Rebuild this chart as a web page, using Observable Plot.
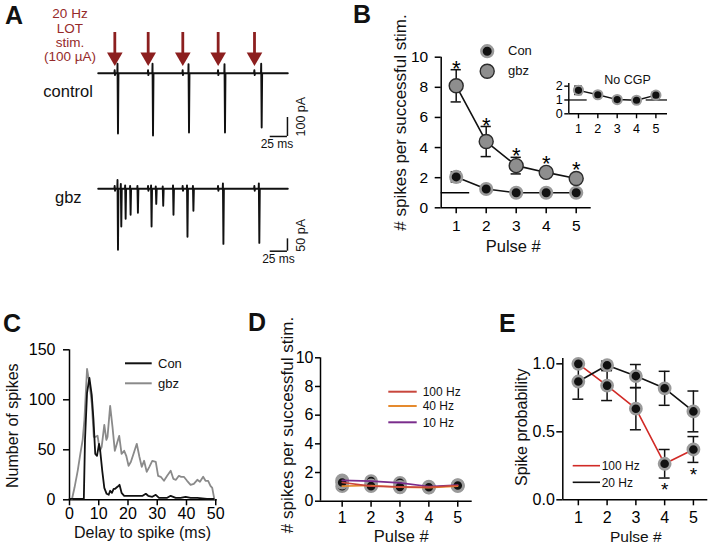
<!DOCTYPE html>
<html><head><meta charset="utf-8">
<script src="https://cdn.jsdelivr.net/npm/d3@7"></script>
<script src="https://cdn.jsdelivr.net/npm/@observablehq/plot@0.6"></script>
<style>
body{margin:0;background:#fff}
#fig{position:relative;width:710px;height:546px;overflow:hidden;background:#fff}
#fig svg{position:absolute;left:0;top:0}
</style></head>
<body><div id="fig"></div>
<script>
const F = '"Liberation Sans", Arial, Helvetica, sans-serif';
const pulses = [1, 2, 3, 4, 5];
const intFmt = d3.format("d");

// ---- Panel A (traces) ----
const stimTimes = [24.1, 72.5, 122.7, 174.0, 226.7];          // ms
const ctrlSpikeT = [28.4, 79.2, 131.4, 183.6, 236.8];         // ms
const ctrlSpikeDown = [317, 328, 312, 312, 286];              // pA
const ctrlSpikeUp = [50, 50, 48, 48, 50];                     // pA
const gbzSpikeT = [28.4, 33.2, 39.5, 46.7, 57.3, 77.1, 83.9, 94.0, 108.9, 129.2, 137.8, 181.3, 233.4];
const gbzSpikeDown = [247, 153, 121, 105, 97, 153, 61, 69, 105, 194, 89, 223, 219];
const gbzSpikeUp = [36, 20, 14, 12, 12, 14, 10, 10, 14, 14, 12, 22, 22];
const scaleMs = 25, ctrlScalePa = 100, gbzScalePa = 50;

// ---- Panel B ----
const bConMean = [2.05, 1.25, 1.0, 1.0, 1.0];
const bConErr = [0.33, 0.12, 0.07, 0.07, 0.07];
const bGbzMean = [8.1, 4.4, 2.8, 2.35, 1.95];
const bGbzErr = [1.07, 1.0, 0.55, 0.25, 0.2];
const bInsetMean = [1.7, 1.38, 1.03, 0.98, 1.35];
const bInsetErr = [0.3, 0.1, 0.06, 0.06, 0.2];

// ---- Panel C ----
const cGbzT = [0.8,1.7,2.8,3.7,4.5,5.1,6.0,6.8,7.6,8.3,8.8,9.6,10.4,11.0,11.9,12.6,13.0,13.9,14.7,15.5,16.2,17.0,17.8,18.7,19.4,20.2,21.0,21.9,23.0,23.9,24.7,25.5,26.4,27.3,28.3,29.5,30.3,31.2,32.3,33.4,34.6,35.5,36.4,37.4,38.2,39.1,40.2,41.4,42.5,43.7,44.6,45.7,46.5,47.4,48.2,48.8,49.5];
const cGbzN = [0,12,29,46,60,80,131,117,97,63,63,64,49,53,75,60,63,94,73,49,56,64,46,49,44,34,38,46,56,43,33,39,28,33,39,38,24,23,19,24,29,21,20,24,23,23,19,15,16,20,18,23,19,19,14,12,1];
const cConT = [0,1,2,3,4,4.9,5.3,6.0,6.8,7.6,8.2,8.8,9.4,10.1,10.5,11.2,11.9,12.7,13.4,13.9,14.5,15.1,15.6,16.4,17.1,17.8,18.7,19.8,22.1,25.0,26.1,26.9,28.3,29.5,30.6,33.4,34.6,36.3,38.0,39.7,41.4,43.7,47.0,49.3];
const cConN = [1,1,1,1,1,1,60,107,122,105,80,46,44,56,49,29,12,6,5,9,7,11,11,13,15,7,4,4,4,4,6,4,3,5,2,2,4,2,2,3,2,2,1,1];

// ---- Panel D ----
const d100Hz = [1.3, 1.05, 1.0, 0.97, 1.1];
const d40Hz = [1.05, 1.1, 0.97, 0.95, 1.05];
const d10Hz = [1.45, 1.4, 1.28, 1.02, 1.12];

// ---- Panel E ----
const e20Mean = [0.87, 0.99, 0.91, 0.82, 0.65];
const e20Err = [0.13, 0.03, 0.085, 0.125, 0.15];
const e100Mean = [1.0, 0.84, 0.67, 0.265, 0.37];
const e100Err = [0.0, 0.11, 0.155, 0.105, 0.095];
const e100Sig = [false, false, false, true, true];

const fig = document.getElementById("fig");
const rows = (m, e, s) => pulses.map((p, i) => ({p, m: m[i], e: e[i], s}));
function P(o, fs) {
  const svg = Plot.plot(Object.assign({width: 710, height: 546,
    style: {background: "transparent", fontFamily: F, fontSize: fs + "px", overflow: "visible"}}, o));
  fig.appendChild(svg);
}
const errMarks = (data, hw, stroke = "#111") => [
  Plot.ruleX(data, {x: "p", y1: d => d.m - d.e, y2: d => d.m + d.e, stroke, strokeWidth: 1.5}),
  Plot.ruleY(data, {y: d => d.m - d.e, x1: d => d.p - hw, x2: d => d.p + hw, stroke, strokeWidth: 1.5}),
  Plot.ruleY(data, {y: d => d.m + d.e, x1: d => d.p - hw, x2: d => d.p + hw, stroke, strokeWidth: 1.5})
];

// ---- A: arrows ----
const arrowRed = "#8c1f1f";
P({x: {domain: [0, 275], range: [97.7, 287.3], axis: null}, marginTop: 32, marginBottom: 492,
  marks: [
    Plot.ruleX(stimTimes, {x: d => d, stroke: arrowRed, strokeWidth: 2.8}),
    Plot.dot(stimTimes, {x: d => d, frameAnchor: "bottom", dy: 2.5, symbol: "triangle", rotate: 180, r: 5.8, fill: arrowRed, stroke: "none"})
  ]}, 10);

function trace(stims, ts, downs, ups, artUp, artDown) {
  const ev = [];
  stims.forEach(s => ev.push({t: s, pts: [[-0.6, 0], [-0.2, artUp], [0.3, -artDown], [0.8, 0]]}));
  ts.forEach((t, i) => ev.push({t, pts: [[-0.7, 0], [-0.4, ups[i]], [0.3, -downs[i]], [1.0, 0]]}));
  ev.sort((a, b) => a.t - b.t);
  const out = [{t: 0, v: 0}];
  ev.forEach(e => e.pts.forEach(([dt, v]) => out.push({t: e.t + dt, v})));
  out.push({t: 275, v: 0});
  return out;
}
const ctrlTrace = trace(stimTimes, ctrlSpikeT, ctrlSpikeDown, ctrlSpikeUp, 16, 10);
const gbzTrace = trace(stimTimes, gbzSpikeT, gbzSpikeDown, gbzSpikeUp, 12, 8);

P({x: {domain: [0, 275], range: [97.7, 287.3], axis: null},
   y: {domain: [-400, 100], range: [72.7 + 76, 72.7 - 19], axis: null},
  marks: [
    Plot.line(ctrlTrace, {x: "t", y: "v", stroke: "#111", strokeWidth: 1.9, strokeLinejoin: "round"}),
    Plot.ruleY([-333], {x1: 274.5 - scaleMs, x2: 274.5, stroke: "#111", strokeWidth: 1.5}),
    Plot.ruleX([274.5], {y1: -333, y2: -333 + ctrlScalePa, stroke: "#111", strokeWidth: 1.5})
  ]}, 10);
P({x: {domain: [0, 275], range: [97.7, 287.3], axis: null},
   y: {domain: [-300, 100], range: [188.3 + 74.1, 188.3 - 24.7], axis: null},
  marks: [
    Plot.line(gbzTrace, {x: "t", y: "v", stroke: "#111", strokeWidth: 1.9, strokeLinejoin: "round"}),
    Plot.ruleY([-252.6], {x1: 274.5 - scaleMs, x2: 274.5, stroke: "#111", strokeWidth: 1.5}),
    Plot.ruleX([274.5], {y1: -252.6, y2: -252.6 + gbzScalePa, stroke: "#111", strokeWidth: 1.5})
  ]}, 10);

// ---- B main ----
const bCon = rows(bConMean, bConErr, "Con"), bGbz = rows(bGbzMean, bGbzErr, "gbz");
P({marginLeft: 440.7, marginRight: 119.3, marginTop: 56.7, marginBottom: 338.7,
  x: {domain: [0.5, 5.5]}, y: {domain: [0, 10]},
  marks: [
    Plot.ruleX([0.5], {y1: 0, y2: 10, strokeWidth: 1.5}),
    Plot.ruleY([0], {x1: 0.5, x2: 5.5, strokeWidth: 1.5}),
    Plot.ruleY([1], {x1: 0.5, x2: 1.45, strokeWidth: 1.5}),
    Plot.axisY({ticks: [0, 2, 4, 6, 8, 10], tickFormat: intFmt, tickSize: 6, tickPadding: 7, label: null, strokeWidth: 1.5}),
    Plot.axisX({ticks: pulses, tickFormat: intFmt, tickSize: 6, tickPadding: 6, label: null, strokeWidth: 1.5}),
    Plot.line(bCon, {x: "p", y: "m", stroke: "#111", strokeWidth: 1.6}),
    Plot.line(bGbz, {x: "p", y: "m", stroke: "#111", strokeWidth: 1.6}),
    ...errMarks([...bCon, ...bGbz], 0.17),
    Plot.dot(bCon, {x: "p", y: "m", r: 5.8, fill: "#111", stroke: "#9a9a9a", strokeWidth: 2.6}),
    Plot.dot(bGbz, {x: "p", y: "m", r: 7, fill: "#8e8e8e", stroke: "#2b2b2b", strokeWidth: 1.4}),
    Plot.text(bGbz, {x: "p", y: d => Math.max(d.m + d.e, d.m + 0.47), text: () => "*", fontSize: 22, dy: -1}),
    Plot.dot([0], {frameAnchor: "top-left", dx: 46, dy: -6, r: 5.8, fill: "#111", stroke: "#9a9a9a", strokeWidth: 2.6}),
    Plot.dot([0], {frameAnchor: "top-left", dx: 46, dy: 14, r: 7, fill: "#8e8e8e", stroke: "#2b2b2b", strokeWidth: 1.4})
  ]}, 15.5);

// ---- B inset ----
const bIn = rows(bInsetMean, bInsetErr, "noCGP");
P({marginLeft: 568.3, marginRight: 43, marginTop: 82.9, marginBottom: 432.7,
  x: {domain: [0.5, 5.6]}, y: {domain: [0, 2.2]},
  marks: [
    Plot.ruleX([0.5], {y1: 0, y2: 2.2, strokeWidth: 1.4}),
    Plot.ruleY([0], {x1: 0.5, x2: 5.6, strokeWidth: 1.4}),
    Plot.ruleY([1], {x1: 0.5, x2: 1.45, strokeWidth: 1.2}),
    Plot.ruleY([1], {x1: 4.5, x2: 5.6, strokeWidth: 1.2}),
    Plot.axisY({ticks: [0, 1, 2], tickFormat: intFmt, tickSize: 4, tickPadding: 2, label: null, strokeWidth: 1.4}),
    Plot.axisX({ticks: pulses, tickFormat: intFmt, tickSize: 5, tickPadding: 5, label: null, strokeWidth: 1.4}),
    Plot.line(bIn, {x: "p", y: "m", stroke: "#111", strokeWidth: 1.4}),
    ...errMarks(bIn, 0.2),
    Plot.dot(bIn, {x: "p", y: "m", r: 4.6, fill: "#111", stroke: "#9a9a9a", strokeWidth: 2})
  ]}, 12.5);

// ---- C ----
const cGbz = cGbzT.map((t, i) => ({t, n: cGbzN[i]}));
const cCon = cConT.map((t, i) => ({t, n: cConN[i]}));
P({marginLeft: 69, marginRight: 493.3, marginTop: 349.3, marginBottom: 46.7,
  x: {domain: [0, 50.5]}, y: {domain: [0, 150]},
  marks: [
    Plot.ruleX([0], {y1: 0, y2: 150, strokeWidth: 1.5}),
    Plot.ruleY([0], {x1: 0, x2: 50.5, strokeWidth: 1.5}),
    Plot.axisY({ticks: [0, 50, 100, 150], tickFormat: intFmt, tickSize: 6, tickPadding: 8, label: null, strokeWidth: 1.5}),
    Plot.axisX({ticks: [0, 10, 20, 30, 40, 50], tickFormat: intFmt, tickSize: 6, tickPadding: 2, label: null, strokeWidth: 1.5}),
    Plot.line(cGbz, {x: "t", y: "n", stroke: "#8a8a8a", strokeWidth: 1.8}),
    Plot.line(cCon, {x: "t", y: "n", stroke: "#111", strokeWidth: 1.8})
  ]}, 16);

// ---- D ----
const dCols = {"100 Hz": "#c8463c", "40 Hz": "#e58a2e", "10 Hz": "#7a2d8c"};
const dRows = [
  ...pulses.map((p, i) => ({p, m: d10Hz[i], s: "10 Hz"})),
  ...pulses.map((p, i) => ({p, m: d40Hz[i], s: "40 Hz"})),
  ...pulses.map((p, i) => ({p, m: d100Hz[i], s: "100 Hz"}))
];
P({marginLeft: 320, marginRight: 238.3, marginTop: 357.3, marginBottom: 45.3,
  x: {domain: [0.25, 5.5]}, y: {domain: [0, 10]},
  marks: [
    Plot.ruleX([0.25], {y1: 0, y2: 10, strokeWidth: 1.5}),
    Plot.ruleY([0], {x1: 0.25, x2: 5.5, strokeWidth: 1.5}),
    Plot.axisY({ticks: [0, 2, 4, 6, 8, 10], tickFormat: intFmt, tickSize: 5, tickPadding: 2, label: null, strokeWidth: 1.5}),
    Plot.axisX({ticks: pulses, tickFormat: intFmt, tickSize: 6, tickPadding: 4.5, label: null, strokeWidth: 1.5}),
    Plot.dot(dRows, {x: "p", y: "m", r: 5.6, fill: "#111", stroke: "#9a9a9a", strokeWidth: 2.6}),
    Plot.line(dRows, {x: "p", y: "m", z: "s", stroke: d => dCols[d.s], strokeWidth: 1.6})
  ]}, 16);

// ---- E ----
const e20 = rows(e20Mean, e20Err, "20 Hz"), e100 = rows(e100Mean, e100Err, "100 Hz");
const eRed = "#d12a26";
P({marginLeft: 562.3, marginRight: 2.7, marginTop: 357.9, marginBottom: 46.7,
  x: {domain: [0.46, 5.5]}, y: {domain: [0, 1.04]},
  marks: [
    Plot.ruleX([0.46], {y1: 0, y2: 1.04, strokeWidth: 1.5}),
    Plot.ruleY([0], {x1: 0.46, x2: 5.5, strokeWidth: 1.5}),
    Plot.axisY({ticks: [0, 0.5, 1], tickFormat: d3.format(".1f"), tickSize: 6, tickPadding: 2, label: null, strokeWidth: 1.5}),
    Plot.axisX({ticks: pulses, tickFormat: intFmt, tickSize: 6, tickPadding: 6, label: null, strokeWidth: 1.5}),
    ...errMarks([...e20, ...e100.filter(d => d.e > 0)], 0.19),
    Plot.line(e100, {x: "p", y: "m", stroke: eRed, strokeWidth: 1.6}),
    Plot.line(e20, {x: "p", y: "m", stroke: "#111", strokeWidth: 1.6}),
    Plot.dot([...e20, ...e100], {x: "p", y: "m", r: 5.6, fill: "#111", stroke: "#9a9a9a", strokeWidth: 2.6}),
    Plot.text(e100.filter((d, i) => e100Sig[i]), {x: "p", y: d => d.m - d.e, text: () => "*", fontSize: 19, dy: 12})
  ]}, 16);

// ---- Annotations (text + legend swatches) ----
const ann = d3.create("svg").attr("width", 710).attr("height", 546)
  .style("font-family", F).style("background", "transparent");
function T(txt, x, y, o = {}) {
  const t = ann.append("text").text(txt)
    .attr("font-size", o.size || 16).attr("fill", o.fill || "#111")
    .attr("font-weight", o.bold ? "bold" : "normal")
    .attr("text-anchor", o.anchor || "start");
  if (o.rot) t.attr("transform", `translate(${x},${y}) rotate(-90)`);
  else t.attr("x", x).attr("y", y);
}
function L(x1, x2, y, stroke, w = 2) {
  ann.append("line").attr("x1", x1).attr("x2", x2).attr("y1", y).attr("y2", y)
    .attr("stroke", stroke).attr("stroke-width", w);
}
// panel letters
T("A", 5, 24, {size: 25, bold: true});
T("B", 353, 22.5, {size: 25, bold: true});
T("C", 3, 332, {size: 25, bold: true});
T("D", 248, 331, {size: 25, bold: true});
T("E", 499, 331.5, {size: 25, bold: true});
// A
const redTxt = "#962a2a";
T("20 Hz", 70, 18.3, {size: 13.5, fill: redTxt, anchor: "middle"});
T("LOT", 70, 32.7, {size: 13.5, fill: redTxt, anchor: "middle"});
T("stim.", 70, 46.7, {size: 13.5, fill: redTxt, anchor: "middle"});
T("(100 µA)", 70, 60.5, {size: 13.5, fill: redTxt, anchor: "middle"});
T("control", 43.3, 96.7, {size: 16.5});
T("gbz", 55, 203.3, {size: 16.5});
T("25 ms", 277, 148, {size: 12, anchor: "middle"});
T("100 pA", 304.5, 116.7, {size: 12.5, anchor: "middle", rot: true});
T("25 ms", 278.5, 263.3, {size: 12, anchor: "middle"});
T("50 pA", 304.5, 235.3, {size: 12.5, anchor: "middle", rot: true});
// B
T("# spikes per successful stim.", 405.7, 122.5, {size: 17, anchor: "middle", rot: true});
T("Pulse #", 513.3, 251.5, {size: 16.5, anchor: "middle"});
T("Con", 508, 55, {size: 13});
T("gbz", 508, 74.5, {size: 13});
T("No CGP", 627.5, 84, {size: 12.5, anchor: "middle"});
// C
T("Number of spikes", 18.3, 425.7, {size: 16, anchor: "middle", rot: true});
T("Delay to spike (ms)", 142.5, 538, {size: 16, anchor: "middle"});
L(125, 151.7, 363.3, "#111");
L(125, 151.7, 383.3, "#8a8a8a");
T("Con", 158, 367.8, {size: 13});
T("gbz", 158, 387.5, {size: 13});
// D
T("# spikes per successful stim.", 293.3, 425, {size: 17, anchor: "middle", rot: true});
T("Pulse #", 401.3, 542, {size: 16.5, anchor: "middle"});
L(388.3, 416.7, 391.7, dCols["100 Hz"]);
L(388.3, 416.7, 406, dCols["40 Hz"]);
L(388.3, 416.7, 422.3, dCols["10 Hz"]);
T("100 Hz", 422.7, 396, {size: 12});
T("40 Hz", 422.7, 410.3, {size: 12});
T("10 Hz", 422.7, 426.6, {size: 12});
// E
T("Spike probability", 527.3, 427.3, {size: 16, anchor: "middle", rot: true});
T("Pulse #", 635.8, 542, {size: 15.5, anchor: "middle"});
L(572.7, 600, 465.7, eRed, 1.6);
L(572.7, 600, 482.3, "#111", 1.6);
T("100 Hz", 601.7, 470, {size: 12});
T("20 Hz", 601.7, 486.6, {size: 12});
fig.appendChild(ann.node());
</script></body></html>
